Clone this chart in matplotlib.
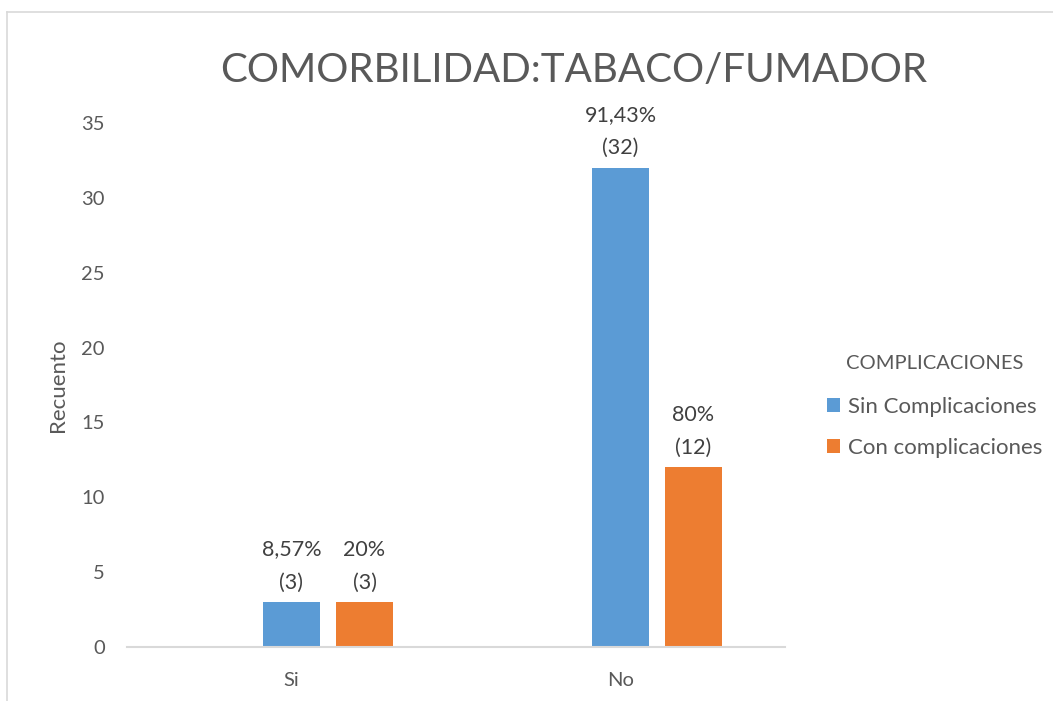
import numpy as np
import matplotlib.pyplot as plt
from matplotlib.lines import Line2D

# datos del grafico
categorias = ['Si', 'No']
series = ['Sin Complicaciones', 'Con complicaciones']
sin_compl = [3, 32]
con_compl = [3, 12]
pct_sin = ['8,57%', '91,43%']
pct_con = ['20%', '80%']

colores = ['#5B9BD5', '#ED7D31']
gris = '#595959'

plt.rcParams['font.family'] = ['Lato', 'DejaVu Sans']

fig = plt.figure(figsize=(10.53, 7.01), dpi=100)
ax = fig.add_axes([0.1206, 0.077, 0.6249, 0.7475])

x = np.arange(len(categorias)) + 0.5
ancho = 0.173
desp = 0.222

b1 = ax.bar(x, sin_compl, ancho, color=colores[0], label=series[0])
b2 = ax.bar(x + desp, con_compl, ancho, color=colores[1], label=series[1])

# etiquetas de datos: porcentaje y recuento
for barras, pcts, vals in [(b1, pct_sin, sin_compl), (b2, pct_con, con_compl)]:
    for b, p, v in zip(barras, pcts, vals):
        ax.annotate('%s\n(%d)' % (p, v), (b.get_x() + b.get_width() / 2, v),
                    xytext=(0, 7), textcoords='offset points', ha='center', va='bottom',
                    fontsize=15.5, color='#404040', linespacing=1.8)

ax.set_xlim(0, 2)
ax.set_ylim(0, 35)
ax.set_yticks(range(0, 36, 5))
ax.set_xticks(x)
ax.set_xticklabels(categorias)
ax.tick_params(length=0, labelsize=14.5, labelcolor=gris)
ax.tick_params(axis='x', pad=18)
ax.tick_params(axis='y', pad=16)
for s in ['top', 'right', 'left']:
    ax.spines[s].set_visible(False)
ax.spines['bottom'].set_color('#D9D9D9')
ax.spines['bottom'].set_linewidth(1.5)

ax.set_ylabel('Recuento', fontsize=16, color=gris, labelpad=9.5)

fig.text(0.5445, 0.899, 'COMORBILIDAD:TABACO/FUMADOR', ha='center', va='center',
         fontsize=29, color=gris)

leg = ax.legend(title='COMPLICACIONES', loc='center left', bbox_to_anchor=(0.766, 0.42),
                bbox_transform=fig.transFigure, frameon=False, fontsize=16,
                title_fontsize=14.5, handlelength=0.6, handleheight=0.6,
                handletextpad=0.35, labelspacing=0.95)
leg.get_title().set_color(gris)
for t in leg.get_texts():
    t.set_color(gris)
leg._legend_box.sep = 18

# borde del area del grafico
fig.add_artist(Line2D([7 / 1053, 1], [1 - 12 / 701, 1 - 12 / 701], color='#D9D9D9', lw=1.2))
fig.add_artist(Line2D([7 / 1053, 7 / 1053], [0, 1 - 12 / 701], color='#D9D9D9', lw=1.2))

fig.savefig('out.png', dpi=100)
